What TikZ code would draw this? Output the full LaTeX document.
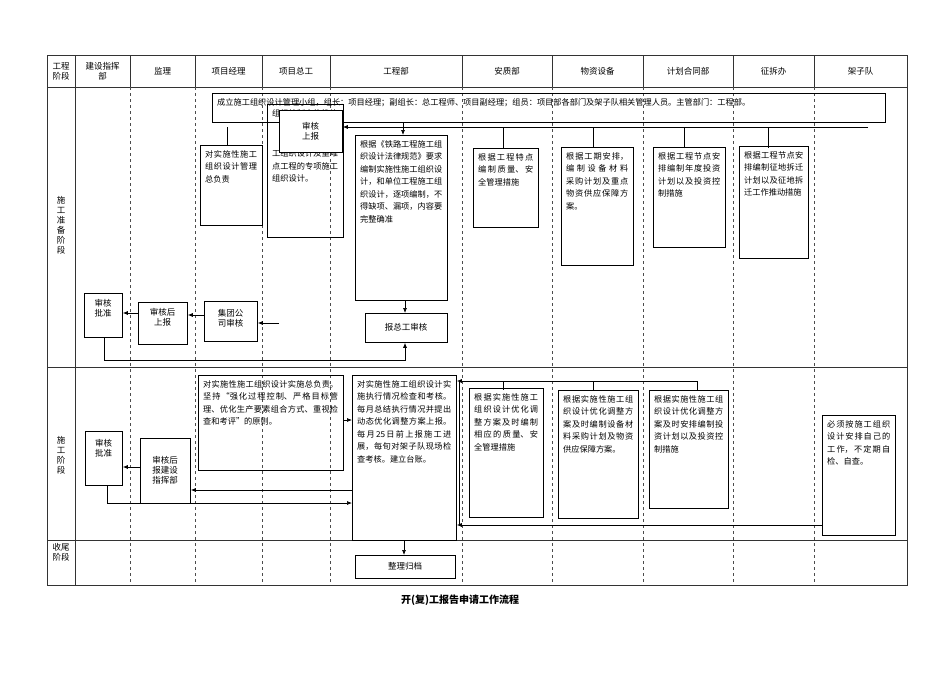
\documentclass[tikz,border=0pt]{standalone}
\usepackage{fontspec}
\setmainfont{Noto Sans CJK SC}
\XeTeXlinebreaklocale "zh"
\XeTeXlinebreakskip=0pt plus 1pt
\usetikzlibrary{arrows.meta}
\begin{document}
\begin{tikzpicture}[x=1pt,y=-1pt,
  frame/.style={line width=0.6pt,black!80},
  lane/.style={dashed,line width=0.5pt,black!70},
  boxs/.style={draw,line width=0.8pt,inner sep=0pt,anchor=north west},
  txt/.style={inner sep=0pt,anchor=north west,align=justify,font=\fontsize{8.2}{12.5}\selectfont},
  hd/.style={font=\fontsize{8.5}{10}\selectfont,align=center},
  ar/.style={-{Latex[length=5pt,width=4pt]},line width=0.7pt},
  ln/.style={line width=0.7pt}]
\newcommand\bx[6]{%
  \pgfmathsetmacro\bxw{#4-#2}\pgfmathsetmacro\bxh{#5-#3}\pgfmathsetmacro\bxt{#4-#2-10}%
  \node[boxs,minimum width=\bxw pt,minimum height=\bxh pt] (#1) at (#2,#3) {};
  \node[txt,text width=\bxt pt] (#1t) at ({#2+5},{#3+5}) {#6};}
\useasboundingbox (0,0) rectangle (950,672);
\fill[white] (0,0) rectangle (950,672);
% frame
\draw[frame] (47,55) rectangle (907,585);
\draw[frame] (47,87) -- (907,87);
\draw[frame] (47,367) -- (907,367);
\draw[frame] (47,540) -- (907,540);
\draw[frame] (75,55) -- (75,585);
\foreach \x in {130,195,262,330,462,552,643,733,814}{
  \draw[frame] (\x,55) -- (\x,87);
  \draw[lane] (\x,87) -- (\x,585);}
% headers
\node[hd] (h0) at (61,71) {工程\\阶段};
\node[hd] (h1) at (102.5,71) {建设指挥\\部};
\node[hd] (h2) at (162.5,71) {监理};
\node[hd] (h3) at (228.5,71) {项目经理};
\node[hd] (h4) at (296,71) {项目总工};
\node[hd] (h5) at (396,71) {工程部};
\node[hd] (h6) at (507,71) {安质部};
\node[hd] (h7) at (597.5,71) {物资设备};
\node[hd] (h8) at (688,71) {计划合同部};
\node[hd] (h9) at (773.5,71) {征拆办};
\node[hd] (h10) at (860.5,71) {架子队};
\node[hd] (s1) at (61,225) {施\\工\\准\\备\\阶\\段};
\node[hd] (s2) at (61,455) {施\\工\\阶\\段};
\node[hd] (s3) at (61,552) {收尾\\阶段};
% preparation stage
\bx{ban}{212}{93}{885}{122}{成立施工组织设计管理小组，组长：项目经理；副组长：总工程师、项目副经理；组员：项目部各部门及架子队相关管理人员。主管部门：工程部。}
\bx{pm1}{200}{145}{262}{225}{对实施性施工组织设计管理总负责}
\bx{ce1}{267}{104}{343}{237}{\vspace*{28pt}组织编制实施性施工组织设计及重难点工程的专项施工组织设计。}
\node[boxs,fill=white,minimum width=63pt,minimum height=42pt] (sh) at (279,110) {};
\node[hd] (sht) at (310.5,131) {审核\\上报};
\bx{en1}{355}{135}{447}{300}{根据《铁路工程施工组织设计法律规范》要求编制实施性施工组织设计，和单位工程施工组织设计，逐项编制，不得缺项、漏项，内容要完整确准}
\node[boxs,minimum width=82pt,minimum height=29pt] (zg) at (365,313) {};
\node[hd] (zgt) at (406,327.5) {报总工审核};
\bx{aq1}{473}{148}{538}{227}{根据工程特点编制质量、安全管理措施}
\bx{wz1}{561}{147}{633}{265}{根据工期安排，编制设备材料采购计划及重点物资供应保障方案。}
\bx{jh1}{653}{147}{725}{247}{根据工程节点安排编制年度投资计划以及投资控制措施}
\bx{zc1}{739}{146}{808}{258}{根据工程节点安排编制征地拆迁计划以及征地拆迁工作推动措施}
\node[boxs,minimum width=38pt,minimum height=44pt] (pz1) at (84,293) {};
\node[hd] (pz1t) at (103,308) {审核\\批准};
\node[boxs,minimum width=49pt,minimum height=42pt] (sb1) at (138,302) {};
\node[hd] (sb1t) at (162.5,317) {审核后\\上报};
\node[boxs,minimum width=53pt,minimum height=40pt] (jt) at (204,301) {};
\node[hd] (jtt) at (230.5,318) {集团公\\司审核};
\coordinate (jin) at (279,323);
% connectors prep
\coordinate (hl) at (868,127);
\draw[ln] (227,127) -- (227,145);
\draw[ar] (hl) -- (sh.east |- hl);
\foreach \x in {503,593,684,768} \draw[ln] (\x,127) -- (\x,148);
\draw[ar] (403,122) -- (en1.north -| 403,0);
\draw[ar] (en1.south -| 405,0) -- (zg.north -| 405,0);
\draw[ar] (jin) -- (jt.east |- jin);
\draw[ar] (jt.west |- 0,315) -- (sb1.east |- 0,315);
\draw[ar] (sb1.west |- 0,313) -- (pz1.east |- 0,313);
\draw[ar] (pz1.south -| 104,0) -- (104,360) -- (405,360) -- (zg.south -| 405,0);
% construction stage
\bx{pm2}{198}{375}{343}{470}{对实施性施工组织设计实施总负责。坚持“强化过程控制、严格目标管理、优化生产要素组合方式、重视检查和考评”的原则。}
\bx{en2}{352}{375}{456}{540}{对实施性施工组织设计实施执行情况检查和考核。每月总结执行情况并提出动态优化调整方案上报。每月25日前上报施工进展，每旬对架子队现场检查考核。建立台账。}
\bx{aq2}{469}{388}{543}{517}{根据实施性施工组织设计优化调整方案及时编制相应的质量、安全管理措施}
\bx{wz2}{558}{390}{638}{518}{根据实施性施工组织设计优化调整方案及时编制设备材料采购计划及物资供应保障方案。}
\bx{jh2}{649}{390}{728}{508}{根据实施性施工组织设计优化调整方案及时安排编制投资计划以及投资控制措施}
\bx{jz}{822}{415}{895}{535}{必须按施工组织设计安排自己的工作，不定期自检、自查。}
\node[boxs,minimum width=37pt,minimum height=54pt] (pz2) at (85,431) {};
\node[hd] (pz2t) at (103.5,448) {审核\\批准};
\node[boxs,minimum width=50pt,minimum height=65pt] (sb2) at (140,438) {};
\node[hd] (sb2t) at (165,470) {审核后\\报建设\\指挥部};
\draw[ar] (pm2.east |- 0,420) -- (en2.west |- 0,420);
\draw[ar] (sb2.west |- 0,467) -- (pz2.east |- 0,467);
\draw[ar] (en2.west |- 0,490) -- (sb2.east |- 0,490);
\draw[ar] (pz2.south -| 107,0) -- (107,503) -- (en2.west |- 0,503);
\draw[ln] (459,381) -- (459,525);
\draw[ar] (459,381) -- (en2.east |- 0,381);
\draw[ar] (459,525) -- (en2.east |- 0,525);
\draw[ln] (459,381) -- (697,381);
\foreach \x in {503,593,697} \draw[ln] (\x,381) -- (\x,390);
\draw[ln] (459,525) -- (jz.west |- 0,525);
% closing
\node[boxs,minimum width=100pt,minimum height=23pt] (zl) at (355,555) {};
\node[hd] (zlt) at (405,566.5) {整理归档};
\draw[ar] (en2.south -| 404,0) -- (zl.north -| 404,0);
\node[font=\bfseries\fontsize{10}{12}\selectfont] (cap) at (460,600) {开(复)工报告申请工作流程};
\end{tikzpicture}
\end{document}
